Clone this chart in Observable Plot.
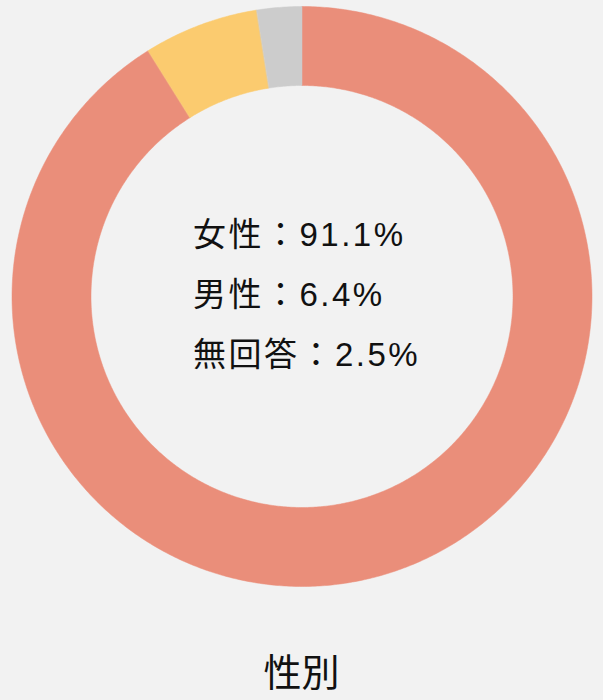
<!DOCTYPE html>
<html>
<head>
<meta charset="utf-8">
<script src="https://cdn.jsdelivr.net/npm/d3@7"></script>
<script src="https://cdn.jsdelivr.net/npm/@observablehq/plot@0.6"></script>
<style>
  html, body { margin: 0; padding: 0; background: #f2f2f2; }
  #chart { width: 603px; }
  #title { width: 603px; text-align: center; font-family: "Noto Sans CJK JP", sans-serif; font-size: 38px; line-height: 48px; color: #111; margin-top: 54px; }
</style>
</head>
<body>
<div id="chart"></div>
<div id="title"></div>
<script>
const title = "性別";
const categories = ["女性", "男性", "無回答"];
const values = [91.1, 6.4, 2.5];
const colors = ["#ea8e7a", "#fbcb6f", "#cccccc"];

const innerRatio = 211 / 290;
// build ring polygons from the data through d3.pie angles
const arcs = d3.pie().sort(null).value(d => d)(values);
const pts = [];
arcs.forEach((a, i) => {
  const n = Math.max(8, Math.ceil((a.endAngle - a.startAngle) / (Math.PI * 2) * 720));
  for (let k = 0; k <= n; k++) {
    const t = a.startAngle + (a.endAngle - a.startAngle) * k / n;
    pts.push({key: categories[i], x: Math.sin(t), y: Math.cos(t)});
  }
  for (let k = n; k >= 0; k--) {
    const t = a.startAngle + (a.endAngle - a.startAngle) * k / n;
    pts.push({key: categories[i], x: innerRatio * Math.sin(t), y: innerRatio * Math.cos(t)});
  }
});

const labelText = categories.map((c, i) => `${c}：${values[i]}%`).join("\n");

const W = 603, H = 592, R = 290;
const cx = W / 2, cy = H / 2;
const chart = Plot.plot({
  width: W,
  height: H,
  margin: 0,
  style: {background: "#f2f2f2", fontFamily: "'Liberation Sans', 'Noto Sans CJK JP', sans-serif", letterSpacing: "2.5px"},
  x: {domain: [-1, 1], range: [cx - R, cx + R], axis: null},
  y: {domain: [-1, 1], range: [cy + R, cy - R], axis: null},
  color: {domain: categories, range: colors},
  marks: [
    Plot.line(pts, {x: "x", y: "y", z: "key", fill: "key", stroke: "key", strokeWidth: 0.5, curve: "linear-closed"}),
    Plot.text([labelText], {
      text: d => d, frameAnchor: "middle", textAnchor: "start", dx: -109, dy: -10,
      lineHeight: 1.82, fontSize: 33, fill: "#111"
    })
  ]
});
document.getElementById("chart").appendChild(chart);
document.getElementById("title").textContent = title;
</script>
</body>
</html>
